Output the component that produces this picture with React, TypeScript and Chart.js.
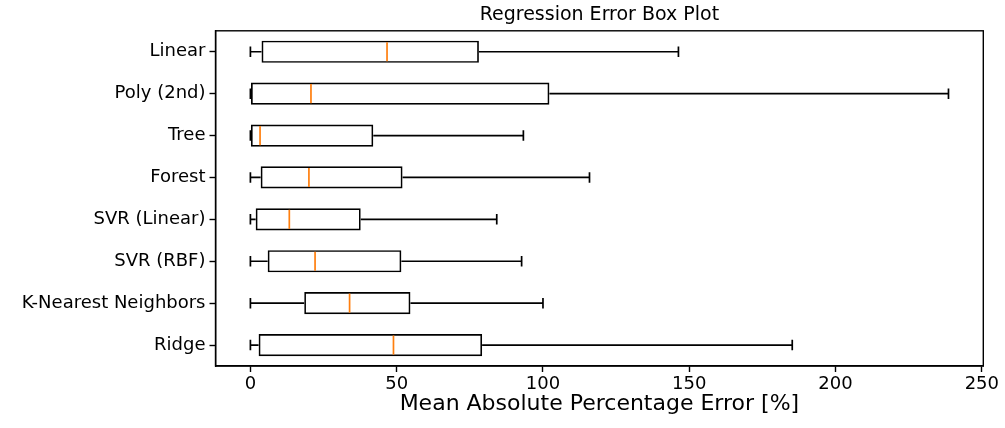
import React, { useEffect, useRef } from "react";
import { Chart, registerables } from "chart.js";

Chart.register(...registerables);

const categories = [
  "Linear",
  "Poly (2nd)",
  "Tree",
  "Forest",
  "SVR (Linear)",
  "SVR (RBF)",
  "K-Nearest Neighbors",
  "Ridge",
];
const whiskerLow = [0, 0, 0, 0, 0, 0, 0, 0];
const q1 = [3.8, 0.2, 0.0, 3.5, 1.8, 5.9, 18.4, 2.8];
const medians = [46.7, 20.7, 3.3, 20.0, 13.3, 22.1, 33.9, 48.9];
const q3 = [78.1, 102.2, 42.0, 52.0, 37.7, 51.6, 54.7, 79.2];
const whiskerHigh = [146.3, 238.6, 93.3, 115.9, 84.2, 92.7, 100.0, 185.2];
const xTicks = [0, 50, 100, 150, 200, 250];

const FONT = "'DejaVu Sans', 'Liberation Sans', sans-serif";

const boxPlugin = {
  id: "boxExtras",
  afterDatasetsDraw(chart: any) {
    const { ctx, chartArea, scales } = chart;
    const xs = scales.x;
    const ys = scales.y;
    const step = ys.getPixelForValue(1) - ys.getPixelForValue(0);
    const capHalf = step * 0.25 * 0.5;
    const boxHalf = step * 0.5 * 0.5;
    ctx.save();
    ctx.lineCap = "butt";
    for (let i = 0; i < categories.length; i++) {
      const y = ys.getPixelForValue(i);
      const xl = xs.getPixelForValue(whiskerLow[i]);
      const x1 = xs.getPixelForValue(q1[i]);
      const x3 = xs.getPixelForValue(q3[i]);
      const xh = xs.getPixelForValue(whiskerHigh[i]);
      const xm = xs.getPixelForValue(medians[i]);
      ctx.strokeStyle = "#000";
      ctx.lineWidth = 1.7;
      ctx.beginPath();
      ctx.moveTo(xl, y);
      ctx.lineTo(x1, y);
      ctx.moveTo(x3, y);
      ctx.lineTo(xh, y);
      ctx.moveTo(xl, y - capHalf);
      ctx.lineTo(xl, y + capHalf);
      ctx.moveTo(xh, y - capHalf);
      ctx.lineTo(xh, y + capHalf);
      ctx.stroke();
      ctx.strokeStyle = "#ff7f0e";
      ctx.lineWidth = 1.7;
      ctx.beginPath();
      ctx.moveTo(xm, y - boxHalf + 0.9);
      ctx.lineTo(xm, y + boxHalf - 0.9);
      ctx.stroke();
    }
    ctx.strokeStyle = "#000";
    ctx.lineWidth = 1.4;
    ctx.strokeRect(
      chartArea.left,
      chartArea.top,
      chartArea.right - chartArea.left,
      chartArea.bottom - chartArea.top
    );
    ctx.restore();
  },
};

export default function App() {
  const canvasRef = useRef<HTMLCanvasElement | null>(null);

  useEffect(() => {
    if (!canvasRef.current) return;
    const chart = new Chart(canvasRef.current, {
      type: "bar",
      data: {
        labels: categories,
        datasets: [
          {
            data: categories.map((_, i) => [q1[i], q3[i]]) as any,
            backgroundColor: "rgba(255,255,255,0)",
            borderColor: "#000",
            borderWidth: 1.7,
            borderSkipped: false,
            barPercentage: 0.53,
            categoryPercentage: 1.0,
          },
        ],
      },
      options: {
        indexAxis: "y",
        animation: false,
        responsive: true,
        maintainAspectRatio: false,
        layout: { padding: { left: 0, right: 21.7, top: 0, bottom: 0 } },
        plugins: {
          legend: { display: false },
          tooltip: { enabled: false },
          title: {
            display: true,
            text: "Regression Error Box Plot",
            color: "#000",
            fullSize: false,
            font: { family: FONT, size: 19, weight: "normal", lineHeight: 1.2 },
            padding: { top: 4, bottom: 4 },
          },
        },
        scales: {
          x: {
            type: "linear",
            min: -11.93,
            max: 250.5,
            afterBuildTicks: (scale: any) => {
              scale.ticks = xTicks.map((v) => ({ value: v }));
            },
            afterFit: (scale: any) => {
              scale.height = 62;
            },
            grid: {
              drawOnChartArea: false,
              drawTicks: true,
              tickLength: 6,
              tickColor: "#000",
              tickWidth: 1.4,
            },
            border: { display: true, color: "#000", width: 1.4 },
            ticks: {
              color: "#000",
              font: { family: FONT, size: 18 },
              padding: 2,
              maxRotation: 0,
            },
            title: {
              display: true,
              text: "Mean Absolute Percentage Error [%]",
              color: "#000",
              font: { family: FONT, size: 22 },
              padding: { top: 0, bottom: 11 },
            },
          },
          y: {
            type: "category",
            afterFit: (scale: any) => {
              scale.width = 215.5;
            },
            grid: {
              offset: false,
              drawOnChartArea: false,
              drawTicks: true,
              tickLength: 6,
              tickColor: "#000",
              tickWidth: 1.4,
            },
            border: { display: true, color: "#000", width: 1.4 },
            ticks: {
              color: "#000",
              font: { family: FONT, size: 18 },
              padding: 4,
            },
          },
        },
      },
      plugins: [boxPlugin],
    });
    return () => chart.destroy();
  }, []);

  return (
    <div
      style={{
        position: "fixed",
        left: 0,
        top: 0,
        width: 1005,
        height: 428,
        background: "#fff",
      }}
    >
      <canvas ref={canvasRef} />
    </div>
  );
}
